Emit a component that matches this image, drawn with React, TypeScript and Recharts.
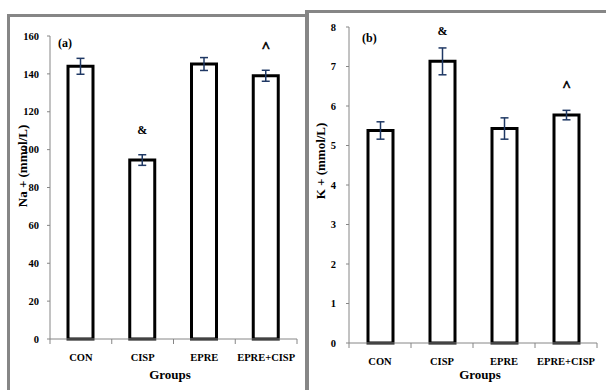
import React from 'react';
import { BarChart, Bar, XAxis, YAxis, ErrorBar, LabelList } from 'recharts';

const groups = ['CON', 'CISP', 'EPRE', 'EPRE+CISP'];

// panel (a) sodium
const naMean = [144, 94.5, 145.2, 139];
const naSem = [4.2, 2.8, 3.4, 2.9];
const naMarks = ['', '&', '', '^'];
const naTicks = [0, 20, 40, 60, 80, 100, 120, 140, 160];

// panel (b) potassium
const kMean = [5.38, 7.13, 5.43, 5.77];
const kSem = [0.22, 0.34, 0.27, 0.12];
const kMarks = ['', '&', '', '^'];
const kTicks = [0, 1, 2, 3, 4, 5, 6, 7, 8];

const FONT = '"Liberation Serif", "Times New Roman", serif';
const AXIS = '#868686';
const ERR = '#1f3864';

const naData = groups.map((g, i) => ({ group: g, value: naMean[i], err: naSem[i], mark: naMarks[i] }));
const kData = groups.map((g, i) => ({ group: g, value: kMean[i], err: kSem[i], mark: kMarks[i] }));

const GroupTick = (props: any) => {
  const { x, y, payload, index, step } = props;
  const left = x - step / 2;
  return (
    <g>
      <line x1={left} x2={left} y1={y} y2={y + 5} stroke={AXIS} />
      {index === groups.length - 1 && (
        <line x1={x + step / 2} x2={x + step / 2} y1={y} y2={y + 5} stroke={AXIS} />
      )}
      <text x={x} y={y + 22} textAnchor="middle" fontFamily={FONT} fontWeight="bold" fontSize={10.5} fill="#000">
        {payload.value}
      </text>
    </g>
  );
};

const YTitle = ({ cx, cy, text }: any) => (
  <text
    x={cx}
    y={cy}
    transform={`rotate(-90 ${cx} ${cy})`}
    textAnchor="middle"
    dominantBaseline="central"
    fontFamily={FONT}
    fontWeight="bold"
    fontSize={13}
    fill="#000"
  >
    {text}
  </text>
);

const XTitle = ({ cx, cy }: any) => (
  <text x={cx} y={cy} textAnchor="middle" fontFamily={FONT} fontWeight="bold" fontSize={13} fill="#000">
    Groups
  </text>
);

const Mark = (props: any) => {
  const { x, y, width, value } = props;
  if (!value) return null;
  const caret = value === '^';
  return (
    <text
      x={x + width / 2}
      y={y - (caret ? 24 : 26)}
      textAnchor="middle"
      fontFamily={FONT}
      fontWeight="bold"
      fontSize={caret ? 15 : 12}
      stroke={caret ? '#000' : 'none'}
      strokeWidth={caret ? 0.6 : 0}
      fill="#000"
    >
      {value}
    </text>
  );
};

interface PanelProps {
  data: any[];
  width: number;
  height: number;
  margin: { top: number; right: number; bottom: number; left: number };
  yWidth: number;
  domain: [number, number];
  ticks: number[];
  tickMargin: number;
  yTitle: string;
  yTitlePos: [number, number];
  xTitlePos: [number, number];
}

const Panel: React.FC<PanelProps> = ({ data, width, height, margin, yWidth, domain, ticks, tickMargin, yTitle, yTitlePos, xTitlePos }) => {
  const plotW = width - margin.left - margin.right - yWidth;
  const step = plotW / groups.length;
  return (
    <BarChart width={width} height={height} data={data} margin={margin} barSize={25}>
      <XAxis
        dataKey="group"
        height={36}
        stroke={AXIS}
        tickLine={false}
        tickSize={0}
        tickMargin={0}
        interval={0}
        tick={<GroupTick step={step} />}
        label={<XTitle cx={xTitlePos[0]} cy={xTitlePos[1]} />}
      />
      <YAxis
        width={yWidth}
        domain={domain}
        ticks={ticks}
        interval={0}
        stroke={AXIS}
        tickSize={3}
        tickMargin={tickMargin}
        tick={{ fontFamily: FONT, fontWeight: 'bold', fontSize: 10.5, fill: '#000' }}
        label={<YTitle cx={yTitlePos[0]} cy={yTitlePos[1]} text={yTitle} />}
      />
      <Bar dataKey="value" fill="#fff" stroke="#000" strokeWidth={3} isAnimationActive={false}>
        <ErrorBar dataKey="err" direction="y" width={4} stroke={ERR} strokeWidth={1.5} />
        <LabelList dataKey="mark" content={<Mark />} />
      </Bar>
    </BarChart>
  );
};

const tagStyle: React.CSSProperties = {
  position: 'absolute',
  fontFamily: FONT,
  fontWeight: 'bold',
  fontSize: 12,
  lineHeight: '14px',
  color: '#000',
};

export default function App() {
  return (
    <div style={{ position: 'absolute', left: 0, top: 0, width: 606, height: 390, background: '#fff', overflow: 'hidden' }}>
      <div style={{ position: 'absolute', left: 7, top: 14, width: 296, height: 400, border: `3px solid ${AXIS}`, borderBottom: 'none' }} />
      <div style={{ position: 'absolute', left: 305, top: 10, width: 310, height: 400, borderTop: `3px solid ${AXIS}`, borderLeft: `4px solid ${AXIS}` }} />
      <div style={{ position: 'absolute', left: 0, top: 0 }}>
        <Panel
          data={naData}
          width={305}
          height={390}
          margin={{ top: 36, right: 8, bottom: 15, left: 0 }}
          yWidth={50}
          domain={[0, 160]}
          ticks={naTicks}
          tickMargin={8}
          yTitle="Na + (mmol/L)"
          yTitlePos={[22, 166]}
          xTitlePos={[170, 379]}
        />
      </div>
      <div style={{ position: 'absolute', left: 305, top: 0 }}>
        <Panel
          data={kData}
          width={301}
          height={390}
          margin={{ top: 27, right: 9, bottom: 11, left: 0 }}
          yWidth={44}
          domain={[0, 8]}
          ticks={kTicks}
          tickMargin={10}
          yTitle="K + (mmol/L)"
          yTitlePos={[15, 161]}
          xTitlePos={[175, 379]}
        />
      </div>
      <div style={{ ...tagStyle, left: 58, top: 36 }}>(a)</div>
      <div style={{ ...tagStyle, left: 362, top: 31 }}>(b)</div>
    </div>
  );
}
